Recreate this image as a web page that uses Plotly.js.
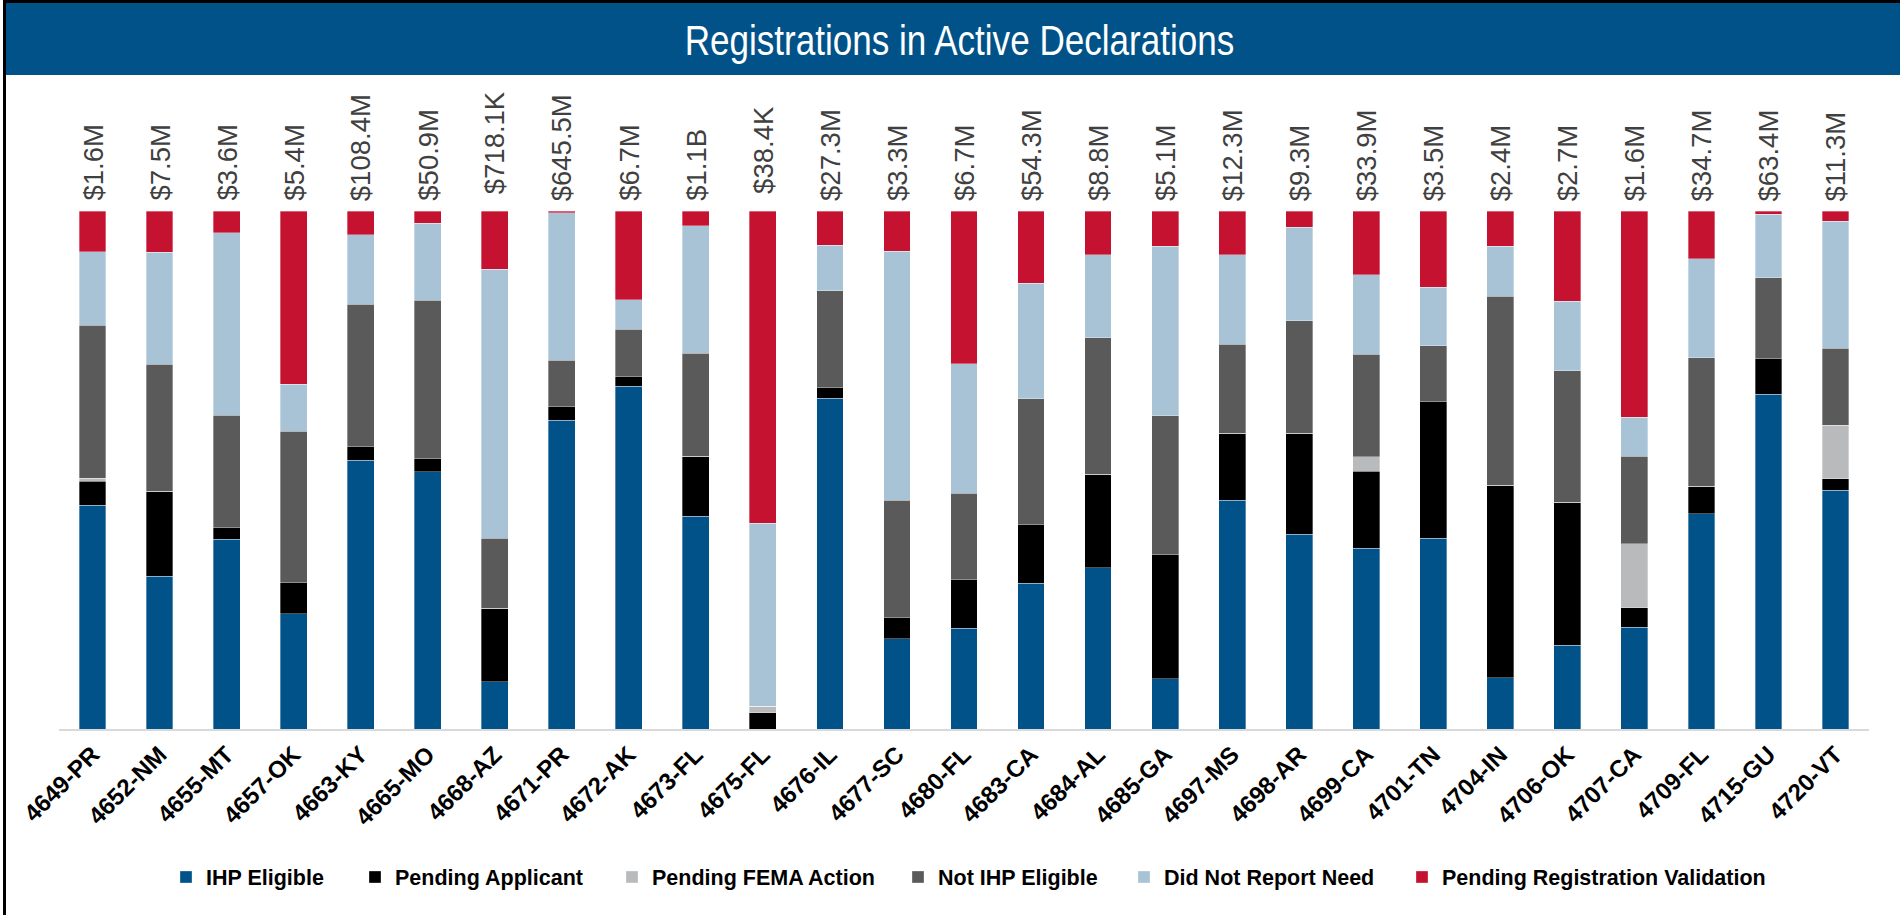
<!DOCTYPE html>
<html>
<head>
<meta charset="utf-8">
<script src="https://cdn.plot.ly/plotly-3.0.1.min.js"></script>
<style>
  html, body { margin: 0; padding: 0; background: #ffffff; }
  #wrap { position: relative; width: 1900px; height: 915px; overflow: hidden; }
  #chart { position: absolute; left: 0; top: 0; width: 1900px; height: 915px; }
  #frame { position: absolute; left: 3px; top: 0; width: 1897px; height: 915px;
           border-left: 3px solid #000; border-top: 3px solid #000; box-sizing: border-box;
           pointer-events: none; }
  /* condensed look for the banner title */
  #chart .gtitle { transform-box: fill-box; transform-origin: center; transform: scaleX(0.835); }
</style>
</head>
<body>
<div id="wrap">
  <div id="chart"></div>
  <div id="frame"></div>
</div>
<script>
// ---- data (share of registrations, %) ----
const categories = ['4649-PR','4652-NM','4655-MT','4657-OK','4663-KY','4665-MO','4668-AZ','4671-PR','4672-AK','4673-FL','4675-FL','4676-IL','4677-SC','4680-FL','4683-CA','4684-AL','4685-GA','4697-MS','4698-AR','4699-CA','4701-TN','4704-IN','4706-OK','4707-CA','4709-FL','4715-GU','4720-VT'];
const amounts = ['$1.6M','$7.5M','$3.6M','$5.4M','$108.4M','$50.9M','$718.1K','$645.5M','$6.7M','$1.1B','$38.4K','$27.3M','$3.3M','$6.7M','$54.3M','$8.8M','$5.1M','$12.3M','$9.3M','$33.9M','$3.5M','$2.4M','$2.7M','$1.6M','$34.7M','$63.4M','$11.3M'];
const ihpEligible       = [43.2,29.5,36.7,22.3,51.9,49.8,9.1,59.7,66.2,41.1,0,63.8,17.4,19.5,28.2,31.1,9.7,44.2,37.6,34.9,36.8,9.9,16.2,19.7,41.6,64.6,46.1];
const pendingApplicant  = [4.6,16.4,2.2,6.0,2.6,2.5,14.2,2.6,1.8,11.6,3.1,2.0,4.1,9.3,11.3,18.1,24.0,12.9,19.5,14.9,26.4,37.2,27.6,3.7,5.3,6.9,2.3];
const pendingFemaAction = [0.6,0,0,0,0,0,0,0,0,0,1.3,0,0,0,0,0,0,0,0,2.8,0,0,0,12.4,0,0,10.3];
const notIhpEligible    = [29.5,24.5,21.8,29.2,27.5,30.6,13.6,9.0,9.2,19.8,0,18.7,22.7,16.8,24.3,26.3,26.8,17.2,21.7,19.8,10.8,36.4,25.4,16.9,24.8,15.6,14.9];
const didNotReportNeed  = [14.2,21.6,35.3,9.1,13.4,14.9,51.9,28.6,5.7,24.7,35.3,8.8,48.1,25.0,22.3,16.1,32.8,17.3,18.1,15.4,11.3,9.7,13.4,7.5,19.1,12.3,24.5];
const pendingValidation = [7.9,8.0,4.2,33.5,4.6,2.4,11.3,0.3,17.1,2.8,60.3,6.6,7.8,29.5,14.0,8.4,6.8,8.4,3.1,12.3,14.7,6.8,17.4,39.9,9.2,0.6,2.0];
const seriesNames = ['IHP Eligible','Pending Applicant','Pending FEMA Action','Not IHP Eligible','Did Not Report Need','Pending Registration Validation'];

// ---- styling ----
const seriesValues = [ihpEligible, pendingApplicant, pendingFemaAction, notIhpEligible, didNotReportNeed, pendingValidation];
const seriesColors = ['#005288','#000000','#b9babc','#5a5a5a','#a7c3d5','#c41230'];
const legendIds = ['legend','legend2','legend3','legend4','legend5','legend6'];
const legendTextStartPx = [206, 395, 652, 938, 1164, 1442];
const W = 1900, H = 915;
const baseFont = 'Liberation Sans, Arial, sans-serif';

const traces = seriesValues.map((vals, i) => ({
  type: 'bar',
  name: seriesNames[i],
  x: categories,
  y: vals,
  marker: { color: seriesColors[i], line: { color: 'rgba(255,255,255,0.55)', width: 0.6 } },
  legend: legendIds[i],
  hoverinfo: 'skip'
}));

const annotations = categories.map((c, i) => ({
  x: c, y: 100, xref: 'x', yref: 'y',
  text: amounts[i],
  textangle: -90,
  showarrow: false,
  xanchor: 'center', yanchor: 'bottom',
  yshift: amounts[i].endsWith('K') ? 15 : 8,
  font: { family: baseFont, size: 27.5, color: '#404040' }
}));

const layout = {
  width: W, height: H,
  margin: { l: 59, r: 31, t: 211, b: 186, pad: 0 },
  paper_bgcolor: '#ffffff', plot_bgcolor: '#ffffff',
  barmode: 'stack', barnorm: 'percent', bargap: 0.6,
  showlegend: true,
  hovermode: false,
  title: {
    text: 'Registrations in Active Declarations',
    font: { family: baseFont, size: 42, color: '#ffffff' },
    xref: 'container', x: 0.505, xanchor: 'center',
    yref: 'container', y: 1 - 40 / H, yanchor: 'middle'
  },
  xaxis: {
    type: 'category',
    showline: true, linecolor: '#d9d9d9', linewidth: 2,
    showgrid: false, zeroline: false, ticks: '',
    tickangle: -45,
    tickfont: { family: baseFont, size: 24, color: '#000000', weight: 'bold' },
    fixedrange: true
  },
  yaxis: { range: [0, 100], visible: false, showgrid: false, zeroline: false, fixedrange: true },
  shapes: [{
    type: 'rect', xref: 'paper', yref: 'paper', layer: 'below',
    x0: (6 - 59) / 1810, x1: (1900 - 59) / 1810,
    y0: (729 - 75) / 518, y1: (729 - 3) / 518,
    fillcolor: '#005288', line: { width: 0 }
  }],
  annotations: annotations
};
legendIds.forEach((id, i) => {
  layout[id] = {
    orientation: 'h',
    xref: 'container', x: (legendTextStartPx[i] - 40) / W, xanchor: 'left',
    yref: 'container', y: 1 - 877 / H, yanchor: 'middle',
    font: { family: baseFont, size: 21.5, color: '#000000', weight: 'bold' },
    bgcolor: 'rgba(0,0,0,0)', borderwidth: 0,
    itemclick: false, itemdoubleclick: false
  };
});

Plotly.newPlot('chart', traces, layout, { displayModeBar: false, staticPlot: true });
</script>
</body>
</html>
